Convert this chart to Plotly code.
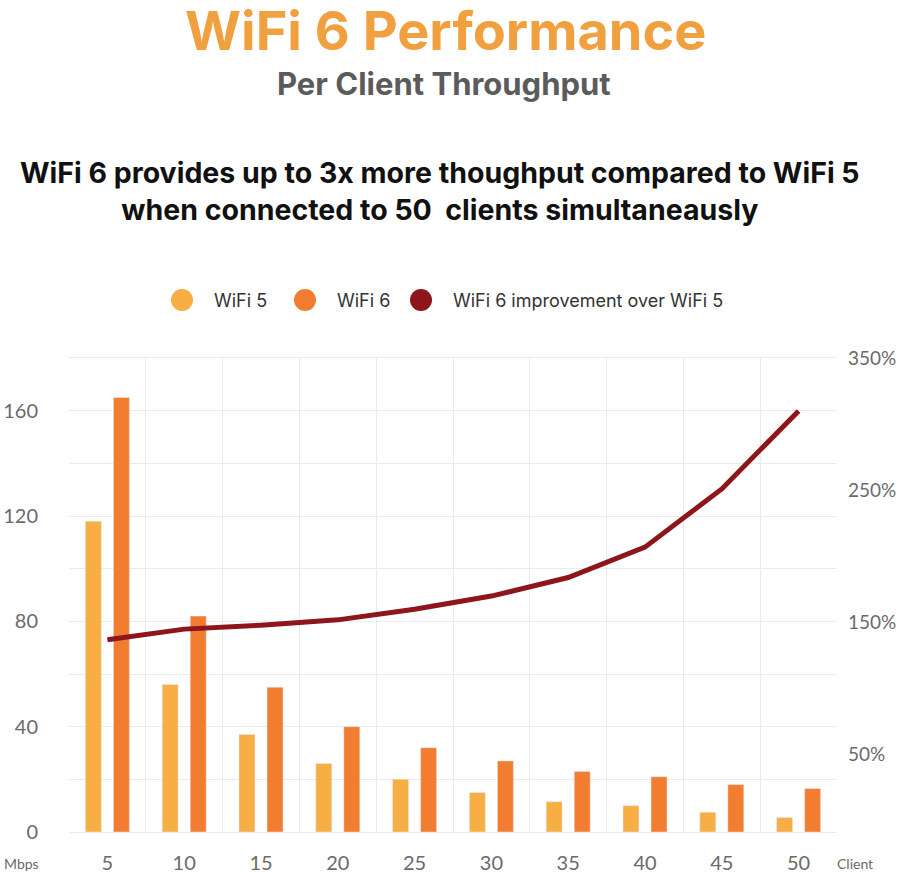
import plotly.graph_objects as go

clients = ["5", "10", "15", "20", "25", "30", "35", "40", "45", "50"]
wifi5 = [118, 56, 37, 26, 20, 15, 11.5, 10, 7.5, 5.5]
wifi6 = [165, 82, 55, 40, 32, 27, 23, 21, 18, 16.5]
improvement = [137, 145, 148, 152, 160, 170, 184, 207, 251, 310]

left_ticks = [0, 40, 80, 120, 160]
right_ticks = [50, 150, 250, 350]
right_labels = ["50%", "150%", "250%", "350%"]

series_names = ["WiFi 5", "WiFi 6", "WiFi 6 improvement over WiFi 5"]

C_W5 = "#F6AE45"
C_W6 = "#F27D30"
C_LINE = "#8E1519"

# plot area in page pixels (body margin is removed below)
L, R, T, B = 69, 837, 358, 832
W, H = 900, 874


def px(x, y):
    return (x - L) / (R - L), (B - y) / (B - T)


fig = go.Figure()
fig.add_trace(go.Bar(x=clients, y=wifi5, name=series_names[0], marker_color=C_W5))
fig.add_trace(go.Bar(x=clients, y=wifi6, name=series_names[1], marker_color=C_W6))
fig.add_trace(go.Scatter(x=clients, y=improvement, yaxis="y2", mode="lines",
                         line=dict(color=C_LINE, width=5), name=series_names[2]))

tick_font = dict(family="Lato", size=20, color="#6a6a6a")
grid = "#ebebeb"

fig.update_layout(
    width=W, height=H,
    margin=dict(l=L, r=W - R, t=T, b=H - B),
    paper_bgcolor="white", plot_bgcolor="white",
    barmode="group", bargap=0.27, bargroupgap=0.43,
    font=dict(family="Inter"),
    showlegend=False,
    xaxis=dict(type="category", tickson="boundaries", showgrid=True,
               gridcolor=grid, ticks="", tickfont=tick_font, automargin=False,
               ticklabelstandoff=13, showline=True, linecolor=grid,
               mirror=True, zeroline=False),
    yaxis=dict(range=[0, 180], tickvals=left_ticks, tickfont=tick_font,
               showgrid=True, gridcolor=grid, ticklabelstandoff=30,
               automargin=False,
               minor=dict(dtick=20, showgrid=True, gridcolor=grid),
               zeroline=False),
    yaxis2=dict(range=[-8.4, 350], overlaying="y", side="right",
                tickvals=right_ticks, ticktext=right_labels,
                tickfont=dict(family="Lato", size=19, color="#6a6a6a"),
                showgrid=False, zeroline=False, ticklabelstandoff=10,
                automargin=False),
)

annotations = [
    ("WiFi 6 Performance", 445, 30, dict(family="Inter", size=54, color="#F0A03F", weight="bold")),
    ("Per Client Throughput", 444, 83, dict(family="Inter", size=31, color="#5b5b5b", weight="bold")),
    ("WiFi 6 provides up to 3x more thoughput compared to WiFi 5<br>when connected to 50  clients simultaneausly",
     440, 191, dict(family="Inter", size=28.5, color="#111", weight="bold")),
]
for text, x, y, font in annotations:
    ax, ay = px(x, y)
    fig.add_annotation(text=text, x=ax, y=ay, xref="paper", yref="paper",
                       showarrow=False, font=font, xanchor="center",
                       yanchor="middle", align="center")

# legend row with round swatches
for name, col, cx in zip(series_names, [C_W5, C_W6, C_LINE], [182, 305, 421]):
    ax, ay = px(cx, 300)
    fig.add_shape(type="circle", xref="paper", yref="paper",
                  xsizemode="pixel", ysizemode="pixel", xanchor=ax, yanchor=ay,
                  x0=-11, x1=11, y0=-11, y1=11, fillcolor=col, line_width=0)
    tx, _ = px(cx + 30, 300)
    fig.add_annotation(text=name, x=tx, y=ay, xref="paper", yref="paper",
                       showarrow=False, xanchor="left", yanchor="middle",
                       font=dict(family="Inter", size=18, color="#333"))

for text, x, y in [("Mbps", 2, 863), ("Client", 835, 863)]:
    ax, ay = px(x, y)
    fig.add_annotation(text=text, x=ax, y=ay, xref="paper", yref="paper",
                       showarrow=False, xanchor="left", yanchor="middle",
                       font=dict(family="Lato", size=14, color="#6a6a6a"))

fig.write_html("out.html", config={"displayModeBar": False},
               post_script="document.body.style.margin='0';")
